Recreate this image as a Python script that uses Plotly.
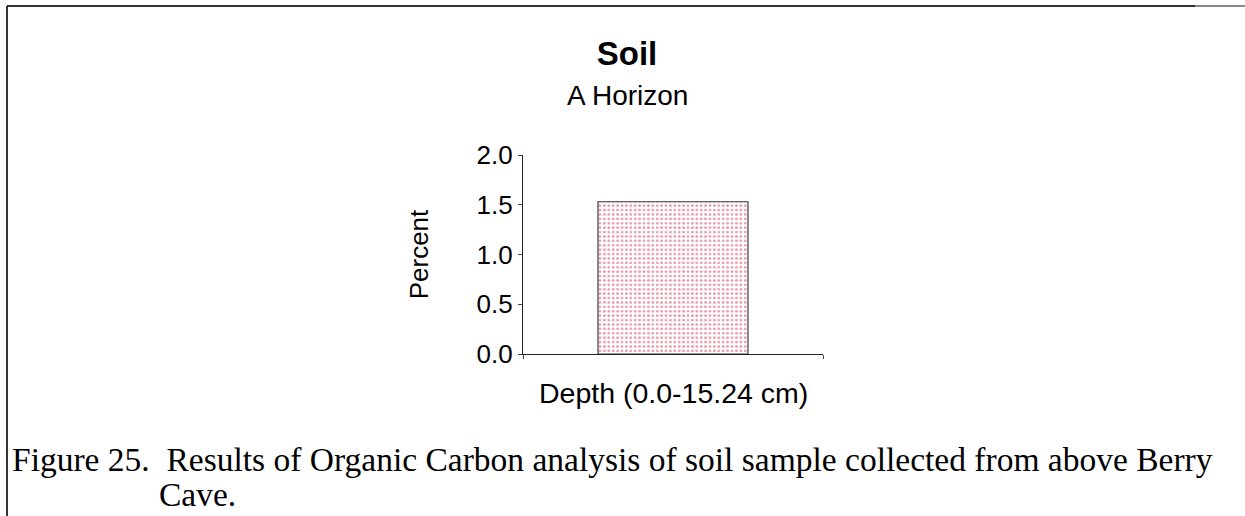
import plotly.graph_objects as go

# ---- data ----
categories = ["Depth (0.0-15.24 cm)"]
percent_values = [1.53]
y_tick_values = [0.0, 0.5, 1.0, 1.5, 2.0]
y_tick_labels = ["0.0", "0.5", "1.0", "1.5", "2.0"]
chart_title = "Soil"
chart_subtitle = "A Horizon"
y_title = "Percent"
x_title = "Depth (0.0-15.24 cm)"
caption_line1 = "Figure 25.  Results of Organic Carbon analysis of soil sample collected from above Berry"
caption_line2 = "Cave."

W, H = 1245, 516
L, R, T, B = 523, 823, 155, 354  # plot area in pixels


def px(x):
    return (x - L) / (R - L)


def py(y):
    return (B - y) / (B - T)


SANS = "Liberation Sans, Arial, sans-serif"
SERIF = "Liberation Serif, Times New Roman, serif"

fig = go.Figure()
fig.add_trace(go.Bar(
    x=categories,
    y=percent_values,
    width=0.5,
    marker=dict(
        color="white",
        line=dict(color="#3a3a3a", width=1.2),
        pattern=dict(shape=".", fgcolor="#cc3355", bgcolor="white", size=4.4, solidity=0.32),
    ),
    showlegend=False,
    hoverinfo="skip",
))

axis_font = dict(family=SANS, size=26, color="black")

fig.update_layout(
    width=W, height=H,
    margin=dict(l=L, r=W - R, t=T, b=H - B, pad=0),
    paper_bgcolor="white", plot_bgcolor="white",
    title=dict(
        text=chart_title,
        font=dict(family=SANS, size=33, color="black", weight="bold"),
        x=627 / W, xanchor="center", xref="container",
        y=1 - 42 / H, yanchor="top", yref="container",
    ),
    xaxis=dict(
        type="category",
        showticklabels=False,
        showline=True, linecolor="#222", linewidth=1.2,
        ticks="outside", tickson="boundaries", ticklen=4, tickcolor="#444",
        showgrid=False, zeroline=False,
        range=[-0.5, 0.5],
        fixedrange=True,
    ),
    yaxis=dict(
        range=[0, 2.0],
        tickvals=y_tick_values, ticktext=y_tick_labels,
        tickfont=axis_font,
        showline=True, linecolor="#222", linewidth=1.2,
        ticks="outside", ticklen=4, tickcolor="#444",
        showgrid=False, zeroline=False,
        title=dict(text=y_title, font=axis_font, standoff=40),
        automargin=False,
    ),
)

# subtitle
fig.add_annotation(
    text=chart_subtitle, xref="paper", yref="paper",
    x=px(627), y=py(96), xanchor="center", yanchor="middle",
    showarrow=False, font=dict(family=SANS, size=28, color="black"),
)

# x-axis title placed under the plot
fig.add_annotation(
    text=x_title, xref="paper", yref="paper",
    x=0.5, y=py(393), xanchor="center", yanchor="middle",
    showarrow=False, font=dict(family=SANS, size=28.5, color="black"),
)

caption_font = dict(family=SERIF, size=33.5, color="black")
fig.add_annotation(
    text=caption_line1, xref="paper", yref="paper",
    x=px(10), y=py(459), xanchor="left", yanchor="middle",
    showarrow=False, font=caption_font,
)
fig.add_annotation(
    text=caption_line2, xref="paper", yref="paper",
    x=px(157), y=py(494), xanchor="left", yanchor="middle",
    showarrow=False, font=caption_font,
)

# frame lines of the scanned figure box
fig.add_shape(type="line", xref="paper", yref="paper",
              x0=px(7), x1=px(1195), y0=py(6), y1=py(6),
              line=dict(color="#333", width=2))
fig.add_shape(type="line", xref="paper", yref="paper",
              x0=px(1195), x1=px(1245), y0=py(6), y1=py(6),
              line=dict(color="#888", width=2))
fig.add_shape(type="line", xref="paper", yref="paper",
              x0=px(7), x1=px(7), y0=py(6), y1=py(516),
              line=dict(color="#333", width=2))

# remove the default page margin so the figure sits at the window's top-left corner
fig.write_html(
    "out.html",
    config={"displayModeBar": False},
    post_script="document.body.style.margin='0';",
)
